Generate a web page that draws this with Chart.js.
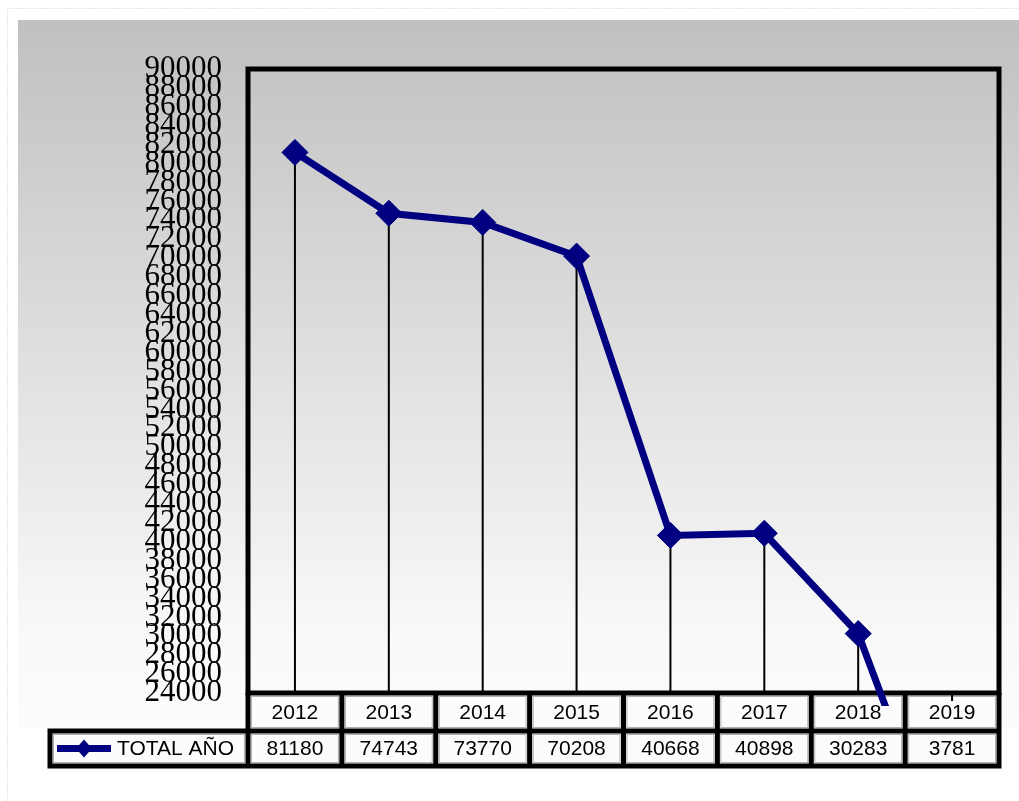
<!DOCTYPE html>
<html>
<head>
<meta charset="utf-8">
<script src="https://cdn.jsdelivr.net/npm/chart.js"></script>
<style>
  html, body { margin: 0; padding: 0; background: #fff; }
</style>
</head>
<body>
<canvas id="myChart" width="1019" height="801"></canvas>
<script>
const years = ["2012", "2013", "2014", "2015", "2016", "2017", "2018", "2019"];
const totals = [81180, 74743, 73770, 70208, 40668, 40898, 30283, 3781];
const seriesName = "TOTAL AÑO";
const yMin = 24000;
const yMax = 90000;
const yStep = 2000;
const lineColor = "#000080";

// grey-to-white panel and dotted outer border
const backdrop = {
  id: "backdrop",
  beforeDraw(chart) {
    const ctx = chart.ctx;
    ctx.save();
    ctx.fillStyle = "#fff";
    ctx.fillRect(0, 0, chart.width, chart.height);
    const g = ctx.createLinearGradient(0, 20, 0, 728);
    g.addColorStop(0, "#c0c0c0");
    g.addColorStop(0.87, "#f9f9f9");
    g.addColorStop(1, "#fcfcfc");
    ctx.fillStyle = g;
    ctx.fillRect(18, 20, chart.width - 18, 708);
    ctx.setLineDash([1, 2]);
    ctx.strokeStyle = "#c8c8c8";
    ctx.lineWidth = 1;
    ctx.strokeRect(7.5, 8.5, chart.width + 20, chart.height + 20);
    ctx.restore();
  }
};

// frame, drop lines and the data table under the plot
const dataTable = {
  id: "dataTable",
  beforeDatasetsDraw(chart) {
    const ctx = chart.ctx;
    const a = chart.chartArea;
    const x = chart.scales.x;
    const n = years.length;
    const colW = (a.right - a.left) / n;
    const r1 = a.bottom, r2 = a.bottom + 38, r3 = a.bottom + 73;
    const legLeft = 50;
    ctx.save();

    // cell fills + thin grey inner borders
    ctx.fillStyle = "#fcfcfc";
    ctx.fillRect(a.left, r1, a.right - a.left, r2 - r1);
    ctx.fillRect(legLeft, r2, a.right - legLeft, r3 - r2);
    ctx.strokeStyle = "#b0b0b0";
    ctx.lineWidth = 1;
    for (let i = 0; i < n; i++) {
      const cx = a.left + i * colW;
      ctx.strokeRect(cx + 3.5, r1 + 3.5, colW - 7, r2 - r1 - 7);
      ctx.strokeRect(cx + 3.5, r2 + 3.5, colW - 7, r3 - r2 - 7);
    }
    ctx.strokeRect(legLeft + 3.5, r2 + 3.5, a.left - legLeft - 7, r3 - r2 - 7);

    // drop lines
    const meta = chart.getDatasetMeta(0);
    ctx.strokeStyle = "#000";
    ctx.lineWidth = 2;
    meta.data.forEach(pt => {
      ctx.beginPath();
      if (pt.y <= a.bottom) {
        ctx.moveTo(pt.x, pt.y);
        ctx.lineTo(pt.x, a.bottom);
      } else {
        ctx.moveTo(pt.x, a.bottom);
        ctx.lineTo(pt.x, a.bottom + 8);
      }
      ctx.stroke();
    });

    // black frame and grid
    ctx.lineWidth = 5;
    ctx.strokeRect(a.left, a.top, a.right - a.left, a.bottom - a.top);
    ctx.beginPath();
    for (let i = 0; i <= n; i++) {
      const cx = a.left + i * colW;
      ctx.moveTo(cx, r1);
      ctx.lineTo(cx, r3);
    }
    ctx.moveTo(legLeft, r2 - 2.5);
    ctx.lineTo(legLeft, r3 + 2.5);
    ctx.moveTo(legLeft - 2.5, r2);
    ctx.lineTo(a.right + 2.5, r2);
    ctx.moveTo(legLeft - 2.5, r3);
    ctx.lineTo(a.right + 2.5, r3);
    ctx.stroke();

    // texts
    ctx.fillStyle = "#000";
    ctx.font = "21px 'Liberation Sans', Arial, sans-serif";
    ctx.textAlign = "center";
    ctx.textBaseline = "middle";
    years.forEach((yr, i) => {
      const px = x.getPixelForValue(i);
      ctx.fillText(yr, px, (r1 + r2) / 2 + 1);
      ctx.fillText(String(totals[i]), px, (r2 + r3) / 2 + 1);
    });
    ctx.textAlign = "left";
    ctx.fillText(seriesName, 117, (r2 + r3) / 2 + 1);

    // legend key
    const ky = (r2 + r3) / 2;
    ctx.strokeStyle = lineColor;
    ctx.lineWidth = 7;
    ctx.beginPath();
    ctx.moveTo(57, ky);
    ctx.lineTo(111, ky);
    ctx.stroke();
    ctx.fillStyle = lineColor;
    ctx.beginPath();
    ctx.moveTo(84, ky - 9);
    ctx.lineTo(92, ky);
    ctx.lineTo(84, ky + 9);
    ctx.lineTo(76, ky);
    ctx.closePath();
    ctx.fill();
    ctx.restore();
  }
};

new Chart("myChart", {
  type: "line",
  data: {
    labels: years,
    datasets: [{
      label: seriesName,
      data: totals,
      borderColor: lineColor,
      backgroundColor: lineColor,
      borderWidth: 7,
      tension: 0,
      pointStyle: "rectRot",
      pointRadius: 13,
      pointBackgroundColor: lineColor,
      pointBorderColor: lineColor,
      pointBorderWidth: 1,
      clip: {left: 20, top: 20, right: 20, bottom: 13}
    }]
  },
  options: {
    responsive: false,
    animation: false,
    devicePixelRatio: 1,
    layout: {padding: {left: 0, top: 69, right: 20, bottom: 108}},
    plugins: {
      legend: {display: false},
      tooltip: {enabled: false}
    },
    scales: {
      x: {
        type: "category",
        offset: true,
        display: false
      },
      y: {
        min: yMin,
        max: yMax,
        afterFit(scale) { scale.width = 248; },
        grid: {display: false, drawTicks: false},
        border: {display: false},
        ticks: {
          stepSize: yStep,
          maxTicksLimit: 50,
          autoSkip: false,
          padding: 26,
          color: "#000",
          font: {family: "'Liberation Serif', 'Times New Roman', serif", size: 31},
          callback: v => String(v)
        }
      }
    }
  },
  plugins: [backdrop, dataTable]
});
</script>
</body>
</html>
